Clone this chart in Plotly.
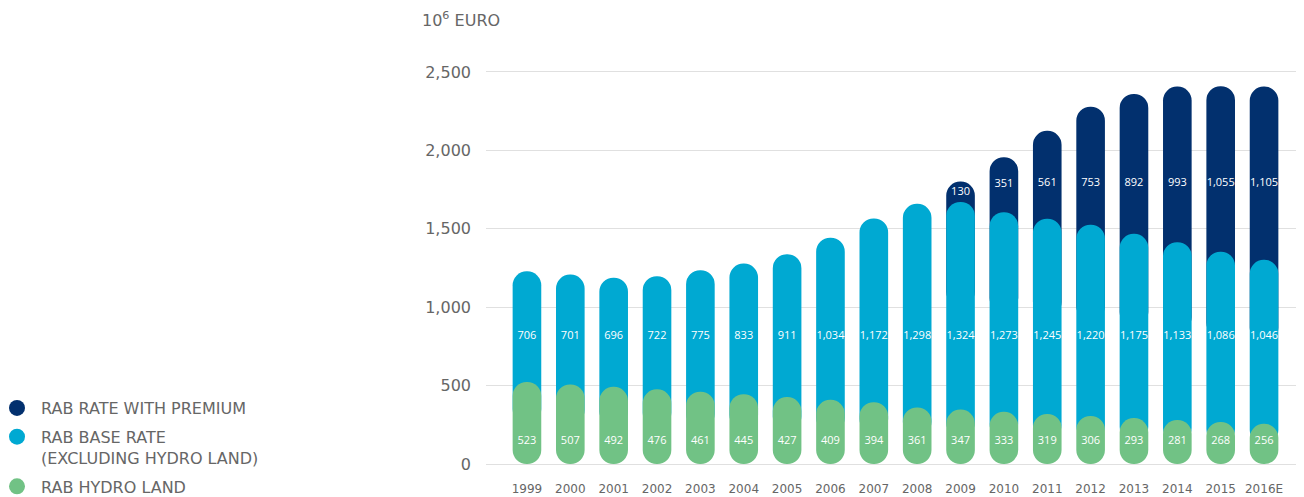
import plotly.graph_objects as go

years = ['1999', '2000', '2001', '2002', '2003', '2004', '2005', '2006', '2007',
         '2008', '2009', '2010', '2011', '2012', '2013', '2014', '2015', '2016E']
hydro_land = [523, 507, 492, 476, 461, 445, 427, 409, 394, 361, 347, 333, 319, 306,
              293, 281, 268, 256]
base_rate = [706, 701, 696, 722, 775, 833, 911, 1034, 1172, 1298, 1324, 1273, 1245,
             1220, 1175, 1133, 1086, 1046]
premium = [None] * 10 + [130, 351, 561, 753, 892, 993, 1055, 1105]

NAVY = '#02306e'
BLUE = '#00a9d2'
GREEN = '#71c285'
GREY = '#666666'
FONT = 'DejaVu Sans'

# fixed label rows (data units)
LABEL_Y_GREEN = 147
LABEL_Y_BLUE = 816
LABEL_Y_NAVY = 1792

fig = go.Figure()

# navy caps: start inside the blue bar so only the rounded top shows
navy_x, navy_base, navy_len, navy_lab_y, navy_txt = [], [], [], [], []
for yr, g, b, p in zip(years, hydro_land, base_rate, premium):
    if p is None:
        continue
    navy_x.append(yr)
    navy_base.append(g + b / 2)
    navy_len.append(g + b + p - (g + b / 2))
    navy_lab_y.append(min(LABEL_Y_NAVY, g + b + p / 2))
    navy_txt.append(f'{p:,}')

fig.add_trace(go.Bar(
    x=navy_x, y=navy_len, base=navy_base, width=0.66,
    marker=dict(color=NAVY, cornerradius='50%', line_width=0),
    showlegend=False, hoverinfo='skip'
))

fig.add_trace(go.Bar(
    x=years, y=[g + b - g / 2 for g, b in zip(hydro_land, base_rate)],
    base=[g / 2 for g in hydro_land], width=0.66,
    marker=dict(color=BLUE, cornerradius='50%', line_width=0),
    showlegend=False, hoverinfo='skip'
))

# green pill (explicit base -> both ends rounded)
fig.add_trace(go.Bar(
    x=years, y=hydro_land, base=[0] * len(years),
    width=0.66, marker=dict(color=GREEN, cornerradius='50%', line_width=0),
    showlegend=False, hoverinfo='skip'
))

# value labels
label_font = dict(color='white', size=11, family='Open Sans')
fig.add_trace(go.Scatter(
    x=years, y=[LABEL_Y_GREEN] * len(years), mode='text',
    text=[f'{v:,}' for v in hydro_land], textfont=label_font,
    showlegend=False, hoverinfo='skip'
))
fig.add_trace(go.Scatter(
    x=years, y=[LABEL_Y_BLUE] * len(years), mode='text',
    text=[f'{v:,}' for v in base_rate], textfont=label_font,
    showlegend=False, hoverinfo='skip'
))
fig.add_trace(go.Scatter(
    x=navy_x, y=navy_lab_y, mode='text',
    text=navy_txt, textfont=label_font,
    showlegend=False, hoverinfo='skip'
))

# legend entries
for name, color in [('RAB RATE WITH PREMIUM', NAVY),
                    ('RAB BASE RATE<br>(EXCLUDING HYDRO LAND)', BLUE),
                    ('RAB HYDRO LAND', GREEN)]:
    fig.add_trace(go.Scatter(
        x=[None], y=[None], mode='markers', name=name, legendgroup=name,
        marker=dict(color=color, size=16, symbol='circle')
    ))

fig.add_annotation(
    text='10<sup>6</sup> EURO', xref='paper', yref='paper',
    x=(412 - 478) / 819, y=(463 - 12) / 410, xanchor='left', yanchor='middle',
    showarrow=False, font=dict(size=16, color=GREY, family=FONT)
)

fig.update_xaxes(
    categoryorder='array', categoryarray=years,
    showgrid=False, showline=False, ticks='',
    tickfont=dict(size=12, color=GREY, family=FONT), ticklabelstandoff=9
)
fig.update_yaxes(
    range=[-44.6, 2570], dtick=500, tickformat=',d',
    gridcolor='#e0e0e0', gridwidth=1, zeroline=False, showline=False,
    tickfont=dict(size=16, color=GREY, family=FONT), ticklabelstandoff=14
)

fig.update_layout(
    barmode='overlay',
    width=1304, height=497,
    plot_bgcolor='white',
    paper_bgcolor='white',
    margin=dict(l=478, r=7, t=53, b=34, autoexpand=False),
    legend=dict(
        xref='container', yref='container', x=0, y=(497 - 383) / 497,
        xanchor='left', yanchor='top', valign='top',
        font=dict(size=16, color=GREY, family=FONT),
        itemsizing='trace', itemwidth=38, indentation=-15, tracegroupgap=5,
        bgcolor='rgba(0,0,0,0)'
    ),
    font=dict(family=FONT, color=GREY)
)

fig.write_html('out.html')
